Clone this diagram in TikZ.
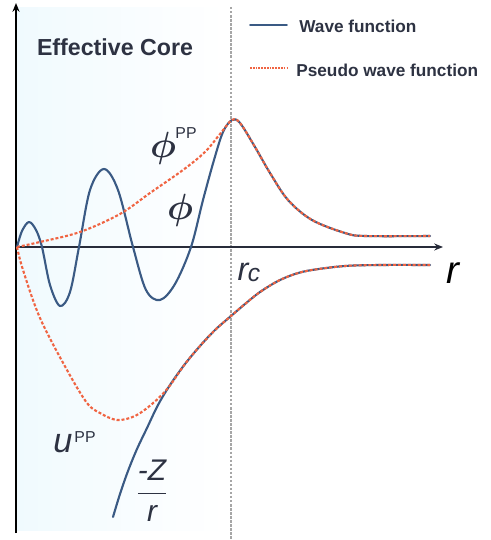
\documentclass[tikz,border=0pt]{standalone}
\usepackage{fontspec}
\setmainfont{Liberation Sans}
\usepackage{tikz}
\usetikzlibrary{arrows.meta, positioning}

\definecolor{wavecol}{RGB}{58,90,132}
\definecolor{pseudocol}{RGB}{240,100,66}
\definecolor{textcol}{RGB}{45,50,66}
\definecolor{axiscol}{RGB}{40,44,58}
\definecolor{corecol}{RGB}{240,250,254}

\begin{document}
\begin{tikzpicture}[x=0.02cm, y=-0.02cm,
            % Curves
            wave/.style={line width=1.2pt, color=wavecol, line join=round, line cap=round},
            pseudo/.style={line width=1.2pt, color=pseudocol,
                    dash pattern=on 1.7pt off 1.1pt},
            % Axes
            axisline/.style={line width=1pt, color=axiscol},
            % Cut-off radius marker
            cutline/.style={line width=1.1pt, color=black!35,
                    dash pattern=on 1.4pt off 0.9pt},
            % Text
            title/.style={font=\fontsize{13.2}{14}\selectfont\bfseries, text=textcol, inner sep=0pt},
            legendtext/.style={font=\fontsize{9.8}{11}\selectfont\bfseries, text=textcol,
                    inner sep=0pt, anchor=west},
            sym/.style={text=textcol, inner sep=0pt},
            sup/.style={font=\fontsize{9}{9}\selectfont, text=textcol, inner sep=0pt}
        ]

        \useasboundingbox (0,0) rectangle (490,540);

        % Effective core region
        \shade[left color=corecol, right color=white] (17,8) rectangle (224,530);
        \node[title] (core) at (115,47) {Effective Core};

        % Legend
        \coordinate (lw1) at (250,25);
        \coordinate (lw2) at (287,25);
        \draw[wave, line width=1pt] (lw1) -- (lw2);
        \node[legendtext] (lwave) at (299,26) {Wave function};
        \coordinate (lp1) at (250,68);
        \coordinate (lp2) at (287,68);
        \draw[pseudocol, line width=1pt, dash pattern=on 1pt off 0.6pt] (lp1) -- (lp2);
        \node[legendtext] (lpseudo) at (296,70) {Pseudo wave function};

        % Axes and r_c
        \coordinate (origin) at (16,247);
        \coordinate (ytop) at (16,3);
        \coordinate (ybot) at (16,533);
        \coordinate (xend) at (443,247);
        \draw[cutline] (231,7) -- (231,540);
        \draw[axisline, line width=1.3pt, color=black, -{Stealth[length=5pt, width=4pt]}] (ybot) -- (ytop);
        \draw[axisline, -{Stealth[length=5pt, width=4pt]}] (origin) -- (xend);

        % All-electron wave function
        \draw[wave] plot[smooth, tension=0.55] coordinates {
            (17,247) (22,231) (29,222) (36,230) (42,247) (50,285) (60,306) (70,292)
            (79,247) (90,190) (104,169) (118,190) (133,247) (146,290) (160,300)
            (175,284) (191,247) (203,200) (214,160) (223,132) (232,120) (240,123)
            (255,147) (270,173) (288,200) (312,220) (345,233) (365,236) (430,236)};

        % Pseudo wave function
        \draw[pseudo] plot[smooth, tension=0.55] coordinates {
            (17,247) (40,242) (80,232) (120,214) (150,193) (183,170) (205,152)
            (220,134) (232,120) (240,123) (255,147) (270,173) (288,200) (312,220)
            (345,233) (365,236) (430,236)};

        % Coulomb potential -Z/r
        \draw[wave] plot[smooth, tension=0.55] coordinates {
            (113,517) (120,494) (128,471) (137,449) (147,428) (158,405) (170,385)
            (185,364) (200,346) (215,330) (231,316) (245,304) (260,292) (278,281)
            (295,274) (312,270) (345,266) (380,265) (430,265)};

        % Pseudopotential
        \draw[pseudo] plot[smooth, tension=0.55] coordinates {
            (17,247) (23,270) (40,318) (67,370) (87,403) (100,413) (117,420)
            (135,416) (152,404) (168,388) (185,364) (200,346) (215,330) (231,316)
            (245,304) (260,292) (278,281) (295,274) (312,270) (345,266) (380,265)
            (430,265)};

        % Labels
        \node[sym, font=\fontsize{20}{20}\selectfont\boldmath] (phipp) at (163,148) {$\phi$};
        \node[sup] (phippsup) at (186,133) {PP};
        \node[sym, font=\fontsize{20}{20}\selectfont\boldmath] (phi) at (180,210) {$\phi$};
        \node[sym, font=\fontsize{18.5}{19}\selectfont\itshape] (rc) at (243,272) {r};
        \node[sym, font=\fontsize{14}{14}\selectfont\itshape] (rcsub) at (254,275) {c};
        \node[sym, font=\fontsize{22}{22}\selectfont\itshape, text=black] (raxis) at (453,273) {r};
        \node[sym, font=\fontsize{19.5}{20}\selectfont\itshape] (upp) at (63,444) {u};
        \node[sup] (uppsup) at (85,437) {PP};
        \node[sym, font=\fontsize{17}{17}\selectfont\itshape] (coul) at (152,491)
            {$\displaystyle\frac{\mbox{-\textit{Z}}}{\mbox{\textit{r}}}$};

    \end{tikzpicture}
\end{document}
